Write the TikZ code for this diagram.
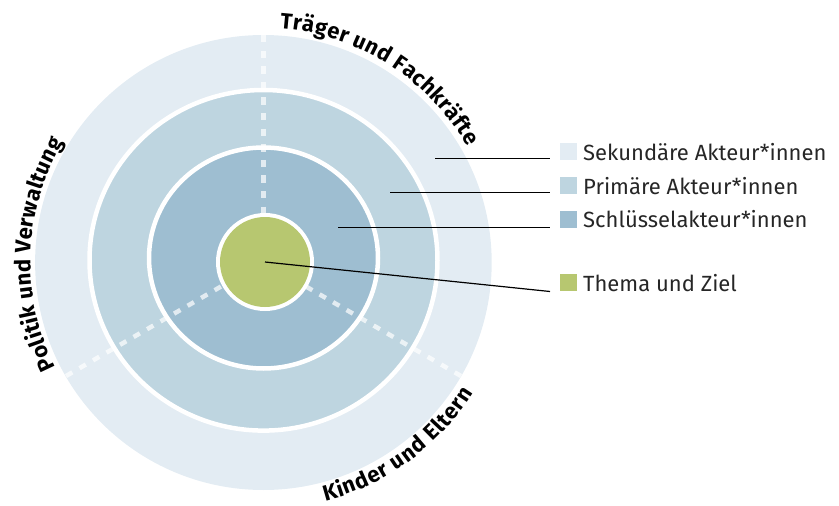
\documentclass[tikz,border=0pt]{standalone}
\usepackage{fontspec}
\setmainfont{Fira Sans}
\usetikzlibrary{decorations.text}
\definecolor{cOuter}{RGB}{227,236,243}
\definecolor{cMid}{RGB}{190,213,224}
\definecolor{cInner}{RGB}{158,190,209}
\definecolor{cGreen}{RGB}{183,199,112}
\tikzset{
  ringline/.style={draw=white, line width=4.5pt},
  dashline/.style={draw=white, draw opacity=0.7, line width=4.5pt, dash pattern=on 7.3pt off 8.3pt},
  leader/.style={draw=black, line width=1.2pt},
  legendbox/.style={minimum size=17pt, inner sep=0pt, anchor=south west},
  legendtext/.style={anchor=base west, inner sep=0pt, font=\fontsize{22}{26}\selectfont, text=black!85},
  arctext/.style={decorate, decoration={text effects along path, text={#1},
     text effects/.cd, text along path, fit text to path,
     characters={font=\bfseries\fontsize{22}{26}\selectfont, text=black}}}
}
\begin{document}
\begin{tikzpicture}[x=1pt,y=-1pt]
\useasboundingbox (0,0) rectangle (839,506);
\coordinate (C) at (263.5,262);
\coordinate (G) at (265,262);
% rings
\fill[cOuter] (263.4,262.5) ellipse [x radius=228.3pt, y radius=227.5pt];
\fill[cMid] (263.5,260.3) ellipse [x radius=174pt, y radius=170.3pt];
\fill[cInner] (263.5,258) ellipse [x radius=114.5pt, y radius=110.5pt];
% dashed separators
\coordinate (D1) at (263.5,35);
\coordinate (D2) at (66,376);
\coordinate (D3) at (461,376);
\draw[dashline] (D1) -- (C);
\draw[dashline] (D2) -- (C);
\draw[dashline] (D3) -- (C);
% white ring lines
\draw[ringline] (263.5,260.3) ellipse [x radius=174pt, y radius=170.3pt];
\draw[ringline] (263.5,258) ellipse [x radius=114.5pt, y radius=110.5pt];
% centre
\fill[white] (G) circle (49pt);
\fill[cGreen] (G) circle (45pt);
% curved labels
\begin{scope}[shift={(C)}, x=1pt, y=1pt]
\path[arctext={Träger und Fachkräfte}]
  (86:234) arc[start angle=86, end angle=29.5, radius=234];
\path[arctext={Politik und Verwaltung}]
  (207:233) arc[start angle=207, end angle=149, radius=233];
\path[arctext={Kinder und Eltern}]
  (-75.5:247) arc[start angle=-75.5, end angle=-32, radius=247];
\end{scope}
% legend
\node[legendbox, fill=cOuter] (L1) at (560,160) {};
\node[legendbox, fill=cMid] (L2) at (560,194) {};
\node[legendbox, fill=cInner] (L3) at (560,227.7) {};
\node[legendbox, fill=cGreen] (L4) at (560,291) {};
\node[legendtext] (T1) at (583,160) {Sekundäre Akteur*innen};
\node[legendtext] (T2) at (583,194) {Primäre Akteur*innen};
\node[legendtext] (T3) at (583,227.7) {Schlüsselakteur*innen};
\node[legendtext] (T4) at (583,291) {Thema und Ziel};
% leaders
\coordinate (S1) at (435,158.3);
\coordinate (E1) at (550,158.3);
\coordinate (S2) at (390,192.3);
\coordinate (E2) at (550,192.3);
\coordinate (S3) at (338,227.7);
\coordinate (E3) at (550,227.7);
\coordinate (E4) at (550,291.5);
\draw[leader] (S1) -- (E1);
\draw[leader] (S2) -- (E2);
\draw[leader] (S3) -- (E3);
\draw[leader] (G) -- (E4);
\end{tikzpicture}
\end{document}
